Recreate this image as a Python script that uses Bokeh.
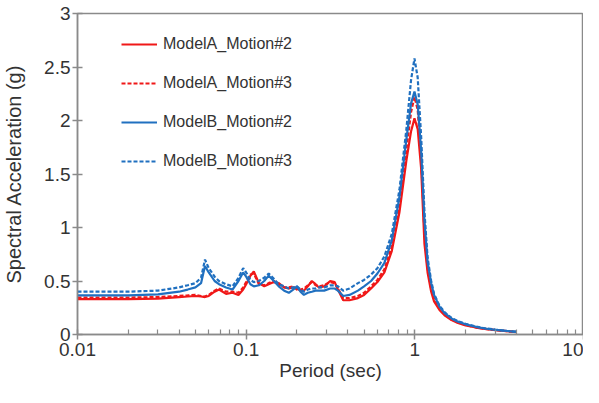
from bokeh.plotting import figure
from bokeh.models import FixedTicker, CustomJSTickFormatter, Legend, LegendItem
from bokeh.embed import file_html
from bokeh.resources import INLINE

# Period (sec)
period = [0.01, 0.02, 0.03, 0.04, 0.045, 0.05, 0.054, 0.057, 0.06, 0.065,
          0.069, 0.076, 0.083, 0.09, 0.096, 0.1, 0.106, 0.111, 0.119, 0.128,
          0.136, 0.146, 0.156, 0.168, 0.179, 0.19, 0.2, 0.21, 0.22, 0.232,
          0.245, 0.258, 0.27, 0.29, 0.315, 0.335, 0.35, 0.376, 0.41, 0.46,
          0.5, 0.55, 0.6, 0.66, 0.73, 0.81, 0.89, 0.95, 0.995, 1.04,
          1.09, 1.14, 1.19, 1.25, 1.3, 1.4, 1.5, 1.65, 1.8, 2.0,
          2.3, 2.6, 3.0, 3.5, 4.0]

modelA_motion2 = [0.33, 0.33, 0.335, 0.35, 0.355, 0.36, 0.355, 0.35, 0.36, 0.40,
                  0.42, 0.38, 0.39, 0.37, 0.42, 0.47, 0.55, 0.59, 0.48, 0.45,
                  0.47, 0.49, 0.48, 0.44, 0.43, 0.44, 0.43, 0.41, 0.41, 0.45,
                  0.50, 0.47, 0.44, 0.45, 0.50, 0.49, 0.42, 0.32, 0.32, 0.34,
                  0.37, 0.43, 0.49, 0.58, 0.78, 1.14, 1.62, 1.90, 2.02, 1.92,
                  1.55, 0.85, 0.58, 0.40, 0.31, 0.23, 0.18, 0.135, 0.108, 0.085,
                  0.065, 0.052, 0.041, 0.031, 0.023]

modelA_motion3 = [0.345, 0.345, 0.35, 0.36, 0.365, 0.37, 0.36, 0.355, 0.37, 0.41,
                  0.43, 0.40, 0.40, 0.39, 0.44, 0.49, 0.56, 0.57, 0.47, 0.46,
                  0.48, 0.50, 0.47, 0.44, 0.44, 0.45, 0.42, 0.42, 0.43, 0.46,
                  0.49, 0.46, 0.45, 0.46, 0.49, 0.48, 0.43, 0.34, 0.34, 0.36,
                  0.39, 0.45, 0.51, 0.61, 0.82, 1.20, 1.72, 2.08, 2.22, 2.10,
                  1.66, 0.95, 0.62, 0.43, 0.33, 0.24, 0.19, 0.14, 0.112, 0.088,
                  0.067, 0.053, 0.042, 0.032, 0.024]

modelB_motion2 = [0.365, 0.365, 0.375, 0.40, 0.42, 0.44, 0.48, 0.64, 0.58, 0.50,
                  0.47, 0.44, 0.42, 0.50, 0.58, 0.54, 0.47, 0.45, 0.46, 0.50,
                  0.55, 0.50, 0.45, 0.41, 0.39, 0.42, 0.45, 0.40, 0.37, 0.39,
                  0.40, 0.41, 0.41, 0.41, 0.43, 0.43, 0.41, 0.36, 0.37, 0.41,
                  0.45, 0.50, 0.57, 0.67, 0.88, 1.28, 1.82, 2.16, 2.27, 2.15,
                  1.72, 1.07, 0.68, 0.48, 0.37, 0.26, 0.20, 0.15, 0.12, 0.095,
                  0.072, 0.056, 0.044, 0.033, 0.025]

modelB_motion3 = [0.40, 0.40, 0.41, 0.44, 0.46, 0.48, 0.53, 0.70, 0.62, 0.54,
                  0.50, 0.47, 0.45, 0.53, 0.62, 0.58, 0.51, 0.49, 0.50, 0.53,
                  0.57, 0.52, 0.47, 0.45, 0.43, 0.44, 0.45, 0.42, 0.40, 0.42,
                  0.43, 0.43, 0.44, 0.44, 0.46, 0.46, 0.45, 0.41, 0.43, 0.48,
                  0.51, 0.56, 0.62, 0.73, 0.94, 1.35, 1.91, 2.38, 2.58, 2.40,
                  1.85, 1.15, 0.72, 0.50, 0.38, 0.27, 0.21, 0.155, 0.125, 0.10,
                  0.075, 0.058, 0.046, 0.034, 0.026]

series_labels = ["ModelA_Motion#2", "ModelA_Motion#3", "ModelB_Motion#2", "ModelB_Motion#3"]
x_major = [0.01, 0.1, 1, 10]
y_major = [0, 0.5, 1, 1.5, 2, 2.5, 3]

RED = "#f01818"
BLUE = "#2070c0"
AXC = "#8a8a8a"
TXT = "#333333"
FONT = "Liberation Sans"

p = figure(width=583, height=387, x_axis_type="log",
           x_range=(0.01, 10), y_range=(0, 3),
           output_backend="svg", toolbar_location=None,
           min_border_left=76, min_border_right=0, min_border_top=13, min_border_bottom=53)
p.background_fill_color = "white"
p.border_fill_color = "white"
p.outline_line_color = AXC
p.outline_line_width = 1.5
p.xgrid.visible = False
p.ygrid.visible = False

styles = [(modelA_motion2, RED, "solid"), (modelA_motion3, RED, "4 2"),
          (modelB_motion2, BLUE, "solid"), (modelB_motion3, BLUE, "4 2")]
items = []
for (vals, col, dash), lab in zip(styles, series_labels):
    r = p.line(period, vals, line_color=col, line_width=2.2, line_dash=dash)
    items.append(LegendItem(label=lab, renderers=[r]))

minor = [m * 10.0 ** d for d in (-2, -1, 0) for m in range(2, 10)]
p.xaxis.ticker = FixedTicker(ticks=x_major, minor_ticks=minor)
p.yaxis.ticker = FixedTicker(ticks=y_major, minor_ticks=[])
fmt = "return tick.toString();"
p.xaxis.formatter = CustomJSTickFormatter(code=fmt)
p.yaxis.formatter = CustomJSTickFormatter(code=fmt)

for ax in (p.xaxis[0], p.yaxis[0]):
    ax.axis_line_color = AXC
    ax.axis_line_width = 1.5
    ax.major_tick_line_color = AXC
    ax.major_tick_line_width = 1.5
    ax.minor_tick_line_color = AXC
    ax.minor_tick_line_width = 1.2
    ax.major_tick_in = 5
    ax.major_tick_out = 5
    ax.minor_tick_in = 5
    ax.minor_tick_out = 0
    ax.major_label_text_font = FONT
    ax.major_label_text_font_size = "19px"
    ax.major_label_text_color = TXT
    ax.axis_label_text_font = FONT
    ax.axis_label_text_font_size = "19px"
    ax.axis_label_text_font_style = "normal"
    ax.axis_label_text_color = TXT

p.yaxis.axis_label_text_font_size = "20px"
p.xaxis.axis_label = "Period (sec)"
p.yaxis.axis_label = "Spectral Acceleration (g)"
p.xaxis.major_label_standoff = 3
p.yaxis.major_label_standoff = 2
p.xaxis.axis_label_standoff = 1
p.yaxis.axis_label_standoff = 16

legend = Legend(items=items, location=(44, 163))
legend.border_line_color = None
legend.background_fill_alpha = 0
legend.padding = 0
legend.margin = 0
legend.spacing = 19
legend.glyph_width = 36
legend.glyph_height = 20
legend.label_height = 20
legend.label_standoff = 6
legend.label_text_font = FONT
legend.label_text_font_size = "16px"
legend.label_text_color = TXT
p.add_layout(legend, "center")

open("out.html", "w").write(file_html(p, INLINE))
